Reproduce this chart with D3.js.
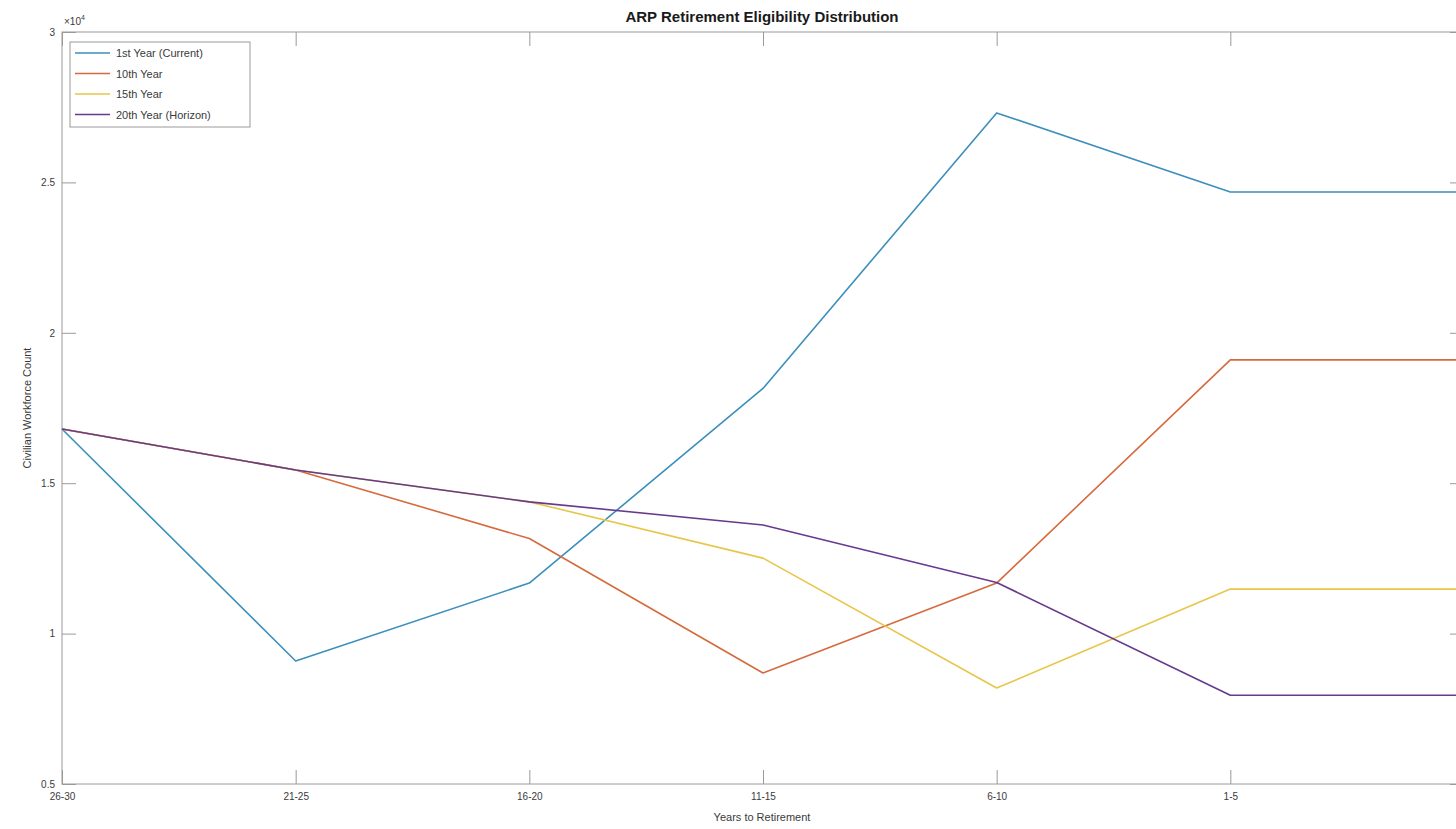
<!DOCTYPE html>
<html>
<head>
<meta charset="utf-8">
<title>ARP Retirement Eligibility Distribution</title>
<script src="https://cdnjs.cloudflare.com/ajax/libs/d3/7.8.5/d3.min.js"></script>
<style>
  body { margin: 0; background: white; font-family: "Liberation Sans", Arial, sans-serif; }
  svg { display: block; }
</style>
</head>
<body>
<div id="chart"></div>
<script>
  // years-to-retirement buckets (last one is cut off at the right edge)
  var categories = ["26-30", "21-25", "16-20", "11-15", "6-10", "1-5", "0"];

  var year1  = [16800,  9090, 11680, 18150, 27310, 24680, 24680];
  var year10 = [16800, 15440, 13160,  8690, 11680, 19100, 19100];
  var year15 = [16800, 15440, 14380, 12510,  8190, 11480, 11480];
  var year20 = [16800, 15440, 14380, 13610, 11700,  7950,  7950];

  var seriesNames = ["1st Year (Current)", "10th Year", "15th Year", "20th Year (Horizon)"];
  var colors = ["#3b8fbb", "#d66a3e", "#e7c64a", "#673a8d"];
  var yTicks = [5000, 10000, 15000, 20000, 25000, 30000];

  var WIDTH = 1456, HEIGHT = 829;
  var plotL = 62, plotR = 1464, plotT = 32, plotB = 784;
  var tickLen = 14;

  var svg = d3.select("#chart").append("svg")
    .attr("width", WIDTH)
    .attr("height", HEIGHT);

  var x = d3.scalePoint().domain(categories).range([plotL, plotR]);
  var y = d3.scaleLinear().domain([5000, 30000]).range([plotB, plotT]);

  var axisColor = "#9a9a9a";
  var labelColor = "#3a3a3a";

  // box
  svg.append("rect")
    .attr("x", plotL).attr("y", plotT)
    .attr("width", plotR - plotL).attr("height", plotB - plotT)
    .attr("fill", "none").attr("stroke", axisColor).attr("stroke-width", 1);

  // bottom axis, ticks pointing in
  var xAxis = svg.append("g")
    .attr("transform", "translate(0," + plotB + ")")
    .call(d3.axisBottom(x).tickSizeInner(-tickLen).tickSizeOuter(0).tickPadding(9));
  xAxis.select(".domain").remove();

  // top ticks
  var xTop = svg.append("g")
    .attr("transform", "translate(0," + plotT + ")")
    .call(d3.axisTop(x).tickSizeInner(-tickLen).tickSizeOuter(0).tickFormat(""));
  xTop.select(".domain").remove();

  // left axis
  var yAxis = svg.append("g")
    .attr("transform", "translate(" + plotL + ",0)")
    .call(d3.axisLeft(y).tickValues(yTicks).tickSizeInner(-tickLen).tickSizeOuter(0)
      .tickPadding(7).tickFormat(function(d) { return d / 10000; }));
  yAxis.select(".domain").remove();

  // right ticks
  var yRight = svg.append("g")
    .attr("transform", "translate(" + plotR + ",0)")
    .call(d3.axisRight(y).tickValues(yTicks).tickSizeInner(-tickLen).tickSizeOuter(0).tickFormat(""));
  yRight.select(".domain").remove();

  svg.selectAll(".tick line").attr("stroke", axisColor);
  svg.selectAll(".tick text")
    .attr("fill", labelColor)
    .style("font-size", "10px")
    .style("font-family", "'Liberation Sans', Arial, sans-serif");

  // exponent marker
  var expo = svg.append("text")
    .attr("x", plotL + 2).attr("y", plotT - 7)
    .attr("fill", labelColor)
    .style("font-size", "10px");
  expo.append("tspan").text("\u00d710");
  expo.append("tspan").attr("dy", -5).style("font-size", "7px").text("4");

  // lines
  var allSeries = [year1, year10, year15, year20];
  var line = d3.line()
    .x(function(d, i) { return x(categories[i]); })
    .y(function(d) { return y(d); });

  allSeries.forEach(function(s, k) {
    svg.append("path")
      .datum(s)
      .attr("d", line)
      .attr("fill", "none")
      .attr("stroke", colors[k])
      .attr("stroke-width", 1.6)
      .attr("stroke-linejoin", "round");
  });

  // title
  svg.append("text")
    .attr("x", 762).attr("y", 22)
    .attr("text-anchor", "middle")
    .attr("fill", "#1a1a1a")
    .style("font-size", "15px")
    .style("font-weight", "bold")
    .text("ARP Retirement Eligibility Distribution");

  // axis labels
  svg.append("text")
    .attr("x", 762).attr("y", 821)
    .attr("text-anchor", "middle")
    .attr("fill", labelColor)
    .style("font-size", "11px")
    .text("Years to Retirement");

  svg.append("text")
    .attr("transform", "translate(31," + ((plotT + plotB) / 2) + ") rotate(-90)")
    .attr("text-anchor", "middle")
    .attr("fill", labelColor)
    .style("font-size", "11px")
    .text("Civilian Workforce Count");

  // legend
  var legend = svg.append("g");
  legend.append("rect")
    .attr("x", 70).attr("y", 42)
    .attr("width", 180).attr("height", 85)
    .attr("fill", "white").attr("stroke", axisColor).attr("stroke-width", 1);

  seriesNames.forEach(function(name, k) {
    var ly = 53 + k * 20.5;
    legend.append("line")
      .attr("x1", 75).attr("x2", 110)
      .attr("y1", ly).attr("y2", ly)
      .attr("stroke", colors[k]).attr("stroke-width", 1.6);
    legend.append("text")
      .attr("x", 116).attr("y", ly + 4)
      .attr("fill", labelColor)
      .style("font-size", "11px")
      .text(name);
  });
</script>
</body>
</html>
